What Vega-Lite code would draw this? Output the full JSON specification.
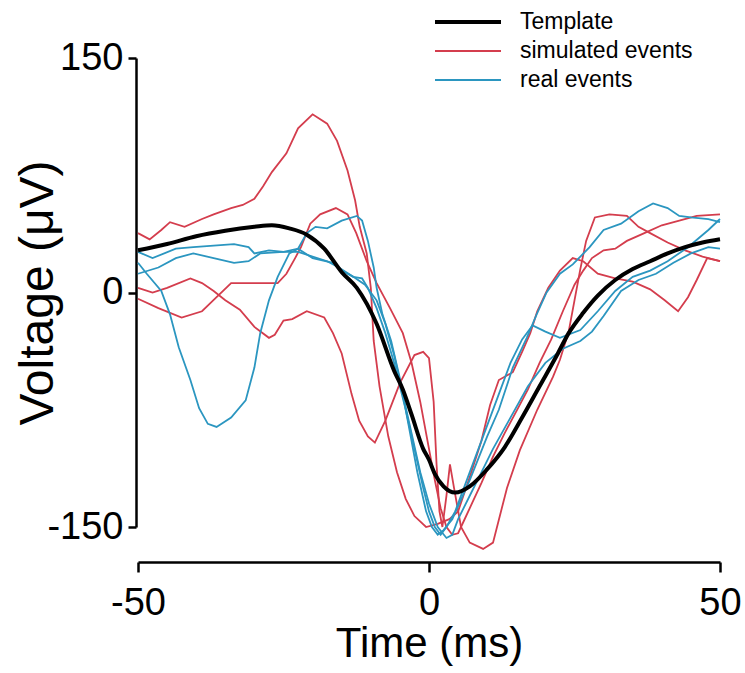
{
  "$schema": "https://vega.github.io/schema/vega-lite/v6.json",
  "width": 582,
  "height": 469,
  "autosize": "none",
  "padding": {"left": 138, "top": 58, "right": 25, "bottom": 146},
  "background": "white",
  "config": {
    "view": {"stroke": null},
    "font": "Liberation Sans",
    "axis": {"grid": false, "domainColor": "black", "tickColor": "black", "labelColor": "black", "titleColor": "black", "titleFontWeight": "normal", "labelFlush": false, "labelOverlap": false}
  },
  "datasets": {
    "template": [
      {"type":"Template","t":-50,"v":27},{"type":"Template","t":-45,"v":31},{"type":"Template","t":-40,"v":36},{"type":"Template","t":-35,"v":39.5},{"type":"Template","t":-30,"v":42},{"type":"Template","t":-27,"v":43},{"type":"Template","t":-24,"v":41},{"type":"Template","t":-21,"v":37},{"type":"Template","t":-18,"v":28},{"type":"Template","t":-15,"v":13},{"type":"Template","t":-12.4,"v":3},{"type":"Template","t":-9,"v":-20},{"type":"Template","t":-6,"v":-50},{"type":"Template","t":-4.5,"v":-62},{"type":"Template","t":-3,"v":-78},{"type":"Template","t":-1,"v":-100},{"type":"Template","t":0,"v":-107},{"type":"Template","t":1,"v":-116},{"type":"Template","t":2.5,"v":-124},{"type":"Template","t":4.5,"v":-128},{"type":"Template","t":7,"v":-124},{"type":"Template","t":10,"v":-113},{"type":"Template","t":13,"v":-99},{"type":"Template","t":16,"v":-80},{"type":"Template","t":19,"v":-60},{"type":"Template","t":22,"v":-40},{"type":"Template","t":24,"v":-26},{"type":"Template","t":26.5,"v":-13},{"type":"Template","t":29,"v":-2},{"type":"Template","t":32,"v":8},{"type":"Template","t":35,"v":15},{"type":"Template","t":38,"v":20},{"type":"Template","t":41,"v":25},{"type":"Template","t":44,"v":29},{"type":"Template","t":47,"v":32},{"type":"Template","t":50,"v":34}
    ],
    "events": [
      {"id":"s1","type":"simulated events","t":-50,"v":38},{"id":"s1","type":"simulated events","t":-48,"v":34},{"id":"s1","type":"simulated events","t":-46,"v":40},{"id":"s1","type":"simulated events","t":-44.5,"v":45},{"id":"s1","type":"simulated events","t":-42,"v":42},{"id":"s1","type":"simulated events","t":-39,"v":47},{"id":"s1","type":"simulated events","t":-37,"v":50},{"id":"s1","type":"simulated events","t":-34,"v":54},{"id":"s1","type":"simulated events","t":-32,"v":56},{"id":"s1","type":"simulated events","t":-30,"v":60},{"id":"s1","type":"simulated events","t":-28.5,"v":68},{"id":"s1","type":"simulated events","t":-27,"v":77},{"id":"s1","type":"simulated events","t":-24.5,"v":89},{"id":"s1","type":"simulated events","t":-22.5,"v":105},{"id":"s1","type":"simulated events","t":-20,"v":114},{"id":"s1","type":"simulated events","t":-17.5,"v":108},{"id":"s1","type":"simulated events","t":-15.8,"v":97},{"id":"s1","type":"simulated events","t":-14,"v":78},{"id":"s1","type":"simulated events","t":-12.7,"v":59},{"id":"s1","type":"simulated events","t":-11.9,"v":42},{"id":"s1","type":"simulated events","t":-10.7,"v":25},{"id":"s1","type":"simulated events","t":-10,"v":3},{"id":"s1","type":"simulated events","t":-9.5,"v":-31},{"id":"s1","type":"simulated events","t":-8.5,"v":-60},{"id":"s1","type":"simulated events","t":-7,"v":-92},{"id":"s1","type":"simulated events","t":-5.5,"v":-115},{"id":"s1","type":"simulated events","t":-4,"v":-132},{"id":"s1","type":"simulated events","t":-2.5,"v":-143},{"id":"s1","type":"simulated events","t":-0.5,"v":-150},{"id":"s1","type":"simulated events","t":1.5,"v":-148},{"id":"s1","type":"simulated events","t":3.5,"v":-145},{"id":"s1","type":"simulated events","t":5,"v":-140},{"id":"s1","type":"simulated events","t":7,"v":-118},{"id":"s1","type":"simulated events","t":9,"v":-95},{"id":"s1","type":"simulated events","t":10.5,"v":-72},{"id":"s1","type":"simulated events","t":12,"v":-56},{"id":"s1","type":"simulated events","t":14.4,"v":-51},{"id":"s1","type":"simulated events","t":16,"v":-38},{"id":"s1","type":"simulated events","t":17.4,"v":-26},{"id":"s1","type":"simulated events","t":18.6,"v":-12},{"id":"s1","type":"simulated events","t":20.5,"v":3},{"id":"s1","type":"simulated events","t":22.5,"v":14},{"id":"s1","type":"simulated events","t":24.7,"v":22},{"id":"s1","type":"simulated events","t":26.5,"v":20},{"id":"s1","type":"simulated events","t":29,"v":12},{"id":"s1","type":"simulated events","t":32,"v":9},{"id":"s1","type":"simulated events","t":35,"v":7},{"id":"s1","type":"simulated events","t":38,"v":2},{"id":"s1","type":"simulated events","t":40.5,"v":-5},{"id":"s1","type":"simulated events","t":42.8,"v":-12},{"id":"s1","type":"simulated events","t":44.5,"v":-3},{"id":"s1","type":"simulated events","t":46,"v":8},{"id":"s1","type":"simulated events","t":47.8,"v":22},{"id":"s1","type":"simulated events","t":50,"v":20},
      {"id":"s2","type":"simulated events","t":-50,"v":3},{"id":"s2","type":"simulated events","t":-47.5,"v":0},{"id":"s2","type":"simulated events","t":-45,"v":3},{"id":"s2","type":"simulated events","t":-41,"v":9},{"id":"s2","type":"simulated events","t":-39,"v":6},{"id":"s2","type":"simulated events","t":-37,"v":1},{"id":"s2","type":"simulated events","t":-35,"v":-5},{"id":"s2","type":"simulated events","t":-32.5,"v":-11},{"id":"s2","type":"simulated events","t":-30,"v":-22},{"id":"s2","type":"simulated events","t":-27.5,"v":-29},{"id":"s2","type":"simulated events","t":-26.5,"v":-27},{"id":"s2","type":"simulated events","t":-25,"v":-18},{"id":"s2","type":"simulated events","t":-23.5,"v":-17},{"id":"s2","type":"simulated events","t":-21,"v":-12},{"id":"s2","type":"simulated events","t":-18,"v":-16},{"id":"s2","type":"simulated events","t":-16.5,"v":-26},{"id":"s2","type":"simulated events","t":-15,"v":-39},{"id":"s2","type":"simulated events","t":-13.3,"v":-65},{"id":"s2","type":"simulated events","t":-12,"v":-82},{"id":"s2","type":"simulated events","t":-10.5,"v":-92},{"id":"s2","type":"simulated events","t":-9.3,"v":-96},{"id":"s2","type":"simulated events","t":-7.5,"v":-82},{"id":"s2","type":"simulated events","t":-5,"v":-58},{"id":"s2","type":"simulated events","t":-2.5,"v":-40},{"id":"s2","type":"simulated events","t":-1,"v":-38},{"id":"s2","type":"simulated events","t":0,"v":-42},{"id":"s2","type":"simulated events","t":0.8,"v":-70},{"id":"s2","type":"simulated events","t":1.3,"v":-110},{"id":"s2","type":"simulated events","t":1.8,"v":-140},{"id":"s2","type":"simulated events","t":2.3,"v":-150},{"id":"s2","type":"simulated events","t":3,"v":-130},{"id":"s2","type":"simulated events","t":3.6,"v":-110},{"id":"s2","type":"simulated events","t":4.3,"v":-125},{"id":"s2","type":"simulated events","t":5.5,"v":-150},{"id":"s2","type":"simulated events","t":7,"v":-160},{"id":"s2","type":"simulated events","t":9.3,"v":-164},{"id":"s2","type":"simulated events","t":11,"v":-160},{"id":"s2","type":"simulated events","t":13.4,"v":-125},{"id":"s2","type":"simulated events","t":15.6,"v":-101},{"id":"s2","type":"simulated events","t":18.6,"v":-75},{"id":"s2","type":"simulated events","t":21.3,"v":-54},{"id":"s2","type":"simulated events","t":22.5,"v":-43},{"id":"s2","type":"simulated events","t":24,"v":-25},{"id":"s2","type":"simulated events","t":25,"v":-5},{"id":"s2","type":"simulated events","t":26,"v":15},{"id":"s2","type":"simulated events","t":27,"v":33},{"id":"s2","type":"simulated events","t":28.5,"v":48},{"id":"s2","type":"simulated events","t":31,"v":50},{"id":"s2","type":"simulated events","t":34,"v":49},{"id":"s2","type":"simulated events","t":36,"v":42},{"id":"s2","type":"simulated events","t":38,"v":38},{"id":"s2","type":"simulated events","t":41,"v":32},{"id":"s2","type":"simulated events","t":44,"v":27},{"id":"s2","type":"simulated events","t":47,"v":23},{"id":"s2","type":"simulated events","t":50,"v":20},
      {"id":"s3","type":"simulated events","t":-50,"v":-4},{"id":"s3","type":"simulated events","t":-46.5,"v":-10},{"id":"s3","type":"simulated events","t":-42.5,"v":-16},{"id":"s3","type":"simulated events","t":-39,"v":-12},{"id":"s3","type":"simulated events","t":-36.5,"v":-3},{"id":"s3","type":"simulated events","t":-34,"v":6},{"id":"s3","type":"simulated events","t":-31,"v":6},{"id":"s3","type":"simulated events","t":-28.5,"v":6},{"id":"s3","type":"simulated events","t":-26,"v":6},{"id":"s3","type":"simulated events","t":-24.5,"v":12},{"id":"s3","type":"simulated events","t":-23,"v":22},{"id":"s3","type":"simulated events","t":-22,"v":29},{"id":"s3","type":"simulated events","t":-20.4,"v":44},{"id":"s3","type":"simulated events","t":-18.7,"v":50},{"id":"s3","type":"simulated events","t":-16,"v":54},{"id":"s3","type":"simulated events","t":-14,"v":50},{"id":"s3","type":"simulated events","t":-12.5,"v":38},{"id":"s3","type":"simulated events","t":-10.7,"v":20},{"id":"s3","type":"simulated events","t":-9,"v":6},{"id":"s3","type":"simulated events","t":-6.7,"v":-10},{"id":"s3","type":"simulated events","t":-4.5,"v":-26},{"id":"s3","type":"simulated events","t":-3,"v":-45},{"id":"s3","type":"simulated events","t":-1.5,"v":-70},{"id":"s3","type":"simulated events","t":0,"v":-100},{"id":"s3","type":"simulated events","t":1,"v":-120},{"id":"s3","type":"simulated events","t":2,"v":-138},{"id":"s3","type":"simulated events","t":3,"v":-150},{"id":"s3","type":"simulated events","t":4,"v":-155},{"id":"s3","type":"simulated events","t":5,"v":-154},{"id":"s3","type":"simulated events","t":6,"v":-146},{"id":"s3","type":"simulated events","t":7.5,"v":-134},{"id":"s3","type":"simulated events","t":9,"v":-122},{"id":"s3","type":"simulated events","t":11,"v":-105},{"id":"s3","type":"simulated events","t":13,"v":-90},{"id":"s3","type":"simulated events","t":15,"v":-76},{"id":"s3","type":"simulated events","t":17,"v":-62},{"id":"s3","type":"simulated events","t":19,"v":-45},{"id":"s3","type":"simulated events","t":21,"v":-30},{"id":"s3","type":"simulated events","t":23,"v":-12},{"id":"s3","type":"simulated events","t":25,"v":5},{"id":"s3","type":"simulated events","t":26.5,"v":14},{"id":"s3","type":"simulated events","t":28,"v":22},{"id":"s3","type":"simulated events","t":30,"v":27},{"id":"s3","type":"simulated events","t":32,"v":28},{"id":"s3","type":"simulated events","t":34,"v":33},{"id":"s3","type":"simulated events","t":37,"v":38},{"id":"s3","type":"simulated events","t":40,"v":43},{"id":"s3","type":"simulated events","t":43,"v":46},{"id":"s3","type":"simulated events","t":46,"v":49},{"id":"s3","type":"simulated events","t":50,"v":50},
      {"id":"r1","type":"real events","t":-50,"v":26},{"id":"r1","type":"real events","t":-47.5,"v":22},{"id":"r1","type":"real events","t":-43.5,"v":28},{"id":"r1","type":"real events","t":-40.5,"v":29},{"id":"r1","type":"real events","t":-37,"v":30},{"id":"r1","type":"real events","t":-33.5,"v":31},{"id":"r1","type":"real events","t":-31,"v":29},{"id":"r1","type":"real events","t":-30,"v":25},{"id":"r1","type":"real events","t":-27.5,"v":27},{"id":"r1","type":"real events","t":-25,"v":26},{"id":"r1","type":"real events","t":-22.5,"v":26},{"id":"r1","type":"real events","t":-20,"v":23},{"id":"r1","type":"real events","t":-17.5,"v":20},{"id":"r1","type":"real events","t":-15.5,"v":16},{"id":"r1","type":"real events","t":-13,"v":10},{"id":"r1","type":"real events","t":-11.5,"v":9},{"id":"r1","type":"real events","t":-10.5,"v":3},{"id":"r1","type":"real events","t":-9,"v":-10},{"id":"r1","type":"real events","t":-7.5,"v":-26},{"id":"r1","type":"real events","t":-6,"v":-45},{"id":"r1","type":"real events","t":-4,"v":-75},{"id":"r1","type":"real events","t":-2.5,"v":-100},{"id":"r1","type":"real events","t":-1,"v":-125},{"id":"r1","type":"real events","t":0,"v":-140},{"id":"r1","type":"real events","t":1,"v":-150},{"id":"r1","type":"real events","t":2,"v":-155},{"id":"r1","type":"real events","t":3,"v":-150},{"id":"r1","type":"real events","t":4.5,"v":-140},{"id":"r1","type":"real events","t":6,"v":-125},{"id":"r1","type":"real events","t":8,"v":-105},{"id":"r1","type":"real events","t":10,"v":-85},{"id":"r1","type":"real events","t":12,"v":-65},{"id":"r1","type":"real events","t":14,"v":-45},{"id":"r1","type":"real events","t":16,"v":-30},{"id":"r1","type":"real events","t":17.8,"v":-21},{"id":"r1","type":"real events","t":20,"v":-25},{"id":"r1","type":"real events","t":22.5,"v":-29},{"id":"r1","type":"real events","t":26,"v":-24},{"id":"r1","type":"real events","t":29,"v":-12},{"id":"r1","type":"real events","t":32,"v":1},{"id":"r1","type":"real events","t":35,"v":10},{"id":"r1","type":"real events","t":38,"v":14},{"id":"r1","type":"real events","t":41,"v":20},{"id":"r1","type":"real events","t":44.5,"v":29},{"id":"r1","type":"real events","t":48,"v":40},{"id":"r1","type":"real events","t":50,"v":47},
      {"id":"r2","type":"real events","t":-50,"v":12},{"id":"r2","type":"real events","t":-46.5,"v":16},{"id":"r2","type":"real events","t":-43.5,"v":22},{"id":"r2","type":"real events","t":-40.5,"v":25},{"id":"r2","type":"real events","t":-37,"v":22},{"id":"r2","type":"real events","t":-33.5,"v":19},{"id":"r2","type":"real events","t":-31,"v":20},{"id":"r2","type":"real events","t":-29,"v":25},{"id":"r2","type":"real events","t":-25,"v":26},{"id":"r2","type":"real events","t":-22.5,"v":28},{"id":"r2","type":"real events","t":-20,"v":22},{"id":"r2","type":"real events","t":-16.5,"v":19},{"id":"r2","type":"real events","t":-15,"v":14},{"id":"r2","type":"real events","t":-13,"v":10},{"id":"r2","type":"real events","t":-11,"v":5},{"id":"r2","type":"real events","t":-9,"v":-5},{"id":"r2","type":"real events","t":-7.5,"v":-20},{"id":"r2","type":"real events","t":-6,"v":-40},{"id":"r2","type":"real events","t":-4.5,"v":-65},{"id":"r2","type":"real events","t":-3,"v":-90},{"id":"r2","type":"real events","t":-1.5,"v":-115},{"id":"r2","type":"real events","t":0,"v":-135},{"id":"r2","type":"real events","t":1.5,"v":-150},{"id":"r2","type":"real events","t":3,"v":-157},{"id":"r2","type":"real events","t":4,"v":-155},{"id":"r2","type":"real events","t":5,"v":-145},{"id":"r2","type":"real events","t":7,"v":-130},{"id":"r2","type":"real events","t":9,"v":-115},{"id":"r2","type":"real events","t":11,"v":-100},{"id":"r2","type":"real events","t":14,"v":-80},{"id":"r2","type":"real events","t":17,"v":-60},{"id":"r2","type":"real events","t":20,"v":-45},{"id":"r2","type":"real events","t":23,"v":-36},{"id":"r2","type":"real events","t":26,"v":-31},{"id":"r2","type":"real events","t":28,"v":-25},{"id":"r2","type":"real events","t":30,"v":-15},{"id":"r2","type":"real events","t":33,"v":1},{"id":"r2","type":"real events","t":36,"v":8},{"id":"r2","type":"real events","t":39,"v":12},{"id":"r2","type":"real events","t":42,"v":19},{"id":"r2","type":"real events","t":45,"v":25},{"id":"r2","type":"real events","t":48,"v":29},{"id":"r2","type":"real events","t":50,"v":28},
      {"id":"r3","type":"real events","t":-50,"v":19},{"id":"r3","type":"real events","t":-48.5,"v":12},{"id":"r3","type":"real events","t":-46,"v":1},{"id":"r3","type":"real events","t":-44.5,"v":-14},{"id":"r3","type":"real events","t":-43,"v":-35},{"id":"r3","type":"real events","t":-41,"v":-56},{"id":"r3","type":"real events","t":-39.5,"v":-74},{"id":"r3","type":"real events","t":-38,"v":-84},{"id":"r3","type":"real events","t":-36.5,"v":-86},{"id":"r3","type":"real events","t":-34,"v":-80},{"id":"r3","type":"real events","t":-31.5,"v":-69},{"id":"r3","type":"real events","t":-30,"v":-48},{"id":"r3","type":"real events","t":-29,"v":-26},{"id":"r3","type":"real events","t":-27.5,"v":-5},{"id":"r3","type":"real events","t":-26,"v":10},{"id":"r3","type":"real events","t":-24,"v":25},{"id":"r3","type":"real events","t":-22.5,"v":28},{"id":"r3","type":"real events","t":-21,"v":38},{"id":"r3","type":"real events","t":-19.5,"v":42},{"id":"r3","type":"real events","t":-17.5,"v":41},{"id":"r3","type":"real events","t":-15,"v":46},{"id":"r3","type":"real events","t":-12.4,"v":49},{"id":"r3","type":"real events","t":-11.5,"v":46},{"id":"r3","type":"real events","t":-10.5,"v":33},{"id":"r3","type":"real events","t":-9.5,"v":16},{"id":"r3","type":"real events","t":-9,"v":3},{"id":"r3","type":"real events","t":-8,"v":-14},{"id":"r3","type":"real events","t":-6.5,"v":-31},{"id":"r3","type":"real events","t":-5,"v":-55},{"id":"r3","type":"real events","t":-3.5,"v":-85},{"id":"r3","type":"real events","t":-2,"v":-115},{"id":"r3","type":"real events","t":-0.5,"v":-140},{"id":"r3","type":"real events","t":0.5,"v":-150},{"id":"r3","type":"real events","t":1.5,"v":-155},{"id":"r3","type":"real events","t":2.5,"v":-152},{"id":"r3","type":"real events","t":4,"v":-145},{"id":"r3","type":"real events","t":7,"v":-120},{"id":"r3","type":"real events","t":10,"v":-92},{"id":"r3","type":"real events","t":12,"v":-75},{"id":"r3","type":"real events","t":14.4,"v":-48},{"id":"r3","type":"real events","t":16.8,"v":-29},{"id":"r3","type":"real events","t":18.5,"v":-14},{"id":"r3","type":"real events","t":20.2,"v":0},{"id":"r3","type":"real events","t":22.5,"v":12},{"id":"r3","type":"real events","t":24.7,"v":18},{"id":"r3","type":"real events","t":27.6,"v":29},{"id":"r3","type":"real events","t":30,"v":40},{"id":"r3","type":"real events","t":33,"v":44},{"id":"r3","type":"real events","t":36,"v":52},{"id":"r3","type":"real events","t":38.5,"v":57},{"id":"r3","type":"real events","t":41,"v":54},{"id":"r3","type":"real events","t":43,"v":49},{"id":"r3","type":"real events","t":45,"v":48},{"id":"r3","type":"real events","t":48,"v":47},{"id":"r3","type":"real events","t":50,"v":45}
    ]
  },
  "encoding": {
    "x": {"field": "t", "type": "quantitative", "scale": {"domain": [-50, 50], "nice": false, "zero": false},
      "axis": {"values": [-50, 0, 50], "labelExpr": "'' + datum.value", "offset": 35, "domainWidth": 2.5, "tickWidth": 2.5, "tickSize": 10, "labelFontSize": 38, "labelPadding": 12, "title": "Time (ms)", "titleFontSize": 42, "titleY": 94, "titleBaseline": "alphabetic"}},
    "y": {"field": "v", "type": "quantitative", "scale": {"domain": [-150, 150], "nice": false, "zero": false},
      "axis": {"values": [-150, 0, 150], "labelExpr": "'' + datum.value", "offset": 2, "domainWidth": 2.5, "tickWidth": 2.5, "tickSize": 8, "labelFontSize": 38, "labelPadding": 5, "title": "Voltage (μV)", "titleFontSize": 48, "titleX": -84, "titleBaseline": "alphabetic"}},
    "color": {"field": "type", "type": "nominal", "title": null,
      "scale": {"domain": ["Template", "simulated events", "real events"], "range": ["#000000", "#d43d4d", "#2b96c0"]},
      "legend": {"orient": "none", "legendX": 317, "legendY": -49, "symbolType": "M-3,0H3", "symbolSize": 484, "symbolFillColor": "transparent", "labelFontSize": 23, "labelColor": "black", "labelOffset": 39, "rowPadding": 5, "padding": 0, "labelLimit": 300}},
    "strokeWidth": {"field": "type", "type": "nominal", "title": null,
      "scale": {"type": "ordinal", "domain": ["Template", "simulated events", "real events"], "range": [4, 1.8, 1.8]},
      "legend": {"orient": "none", "legendX": 317, "legendY": -49, "symbolType": "M-3,0H3", "symbolSize": 484, "symbolFillColor": "transparent", "labelFontSize": 23, "labelColor": "black", "labelOffset": 39, "rowPadding": 5, "padding": 0, "labelLimit": 300}}
  },
  "layer": [
    {"data": {"name": "events"}, "mark": {"type": "line", "clip": false}, "encoding": {"detail": {"field": "id"}}},
    {"data": {"name": "template"}, "mark": {"type": "line", "interpolate": "monotone", "clip": false}, "encoding": {}}
  ]
}
